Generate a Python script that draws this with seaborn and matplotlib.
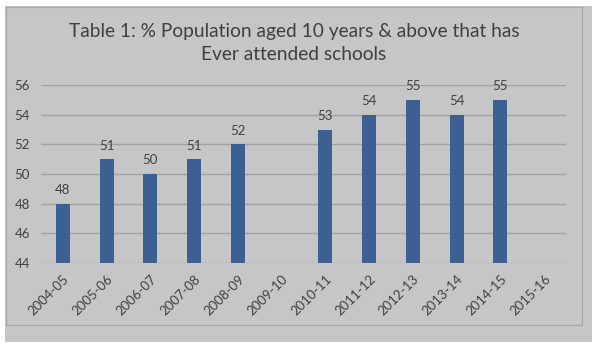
import numpy as np
import pandas as pd
import matplotlib
matplotlib.use("Agg")
import matplotlib.pyplot as plt
from matplotlib.patches import Rectangle
import seaborn as sns

categories = ["2004-05", "2005-06", "2006-07", "2007-08", "2008-09", "2009-10",
              "2010-11", "2011-12", "2012-13", "2013-14", "2014-15", "2015-16"]
values = [48, 51, 50, 51, 52, None, 53, 54, 55, 54, 55, None]
y_ticks = [44, 46, 48, 50, 52, 54, 56]
title = "Table 1: % Population aged 10 years & above that has\nEver attended schools"

sns.set_theme(style="white")
plt.rcParams['font.family'] = ['Lato', 'DejaVu Sans']

BG = "#c6c6c6"
BAR = "#3b6091"
TXT = "#404040"
GRID = "#a2a2a2"

df = pd.DataFrame({"year": categories, "value": values}).dropna()

fig = plt.figure(figsize=(6, 3.5), dpi=100)
fig.patch.set_facecolor("white")
W, H = 600, 350
# gray panel (with shadow-like extension)
fig.patches.append(Rectangle((5 / W, 1 - 342 / H), (592 - 5) / W, (342 - 6) / H,
                             transform=fig.transFigure, facecolor=BG,
                             edgecolor="none", zorder=-2))
fig.patches.append(Rectangle((5.5 / W, 1 - 324.5 / H), (581.5 - 5.5) / W, (324.5 - 6.5) / H,
                             transform=fig.transFigure, facecolor="none",
                             edgecolor="#a8a8a8", lw=0.9, zorder=-1))

ax = fig.add_axes([41 / W, 1 - 263 / H, (566 - 41) / W, (263 - 85) / H])
ax.set_zorder(5)
ax.set_facecolor("none")

sns.barplot(data=df, x="year", y="value", order=categories, color=BAR,
            width=0.32, saturation=1, ax=ax, zorder=3, edgecolor="none",
            linewidth=0)

ax.set_ylim(44, 56)
ax.set_yticks(y_ticks)
ax.set_xlim(-0.5, len(categories) - 0.5)
ax.yaxis.grid(True, color=GRID, lw=1)
ax.set_axisbelow(True)
for s in ax.spines.values():
    s.set_visible(False)
ax.set_xlabel("")
ax.set_ylabel("")
ax.tick_params(axis="y", length=0, pad=8, labelsize=9.5, labelcolor=TXT)
ax.tick_params(axis="x", length=0, pad=7, labelsize=9.5, labelcolor=TXT)
plt.setp(ax.get_xticklabels(), rotation=45, ha="right", rotation_mode="anchor")

for i, v in enumerate(values):
    if v is not None:
        ax.annotate(f"{v}", (i, v), xytext=(0, 5.5), textcoords="offset points",
                    ha="center", va="bottom", fontsize=9.5, color=TXT)

fig.text(294 / W, 1 - 43 / H, title, ha="center", va="center", fontsize=13.8,
         color=TXT, linespacing=1.5, zorder=6)

fig.savefig("out.png", dpi=100, facecolor=fig.get_facecolor())
